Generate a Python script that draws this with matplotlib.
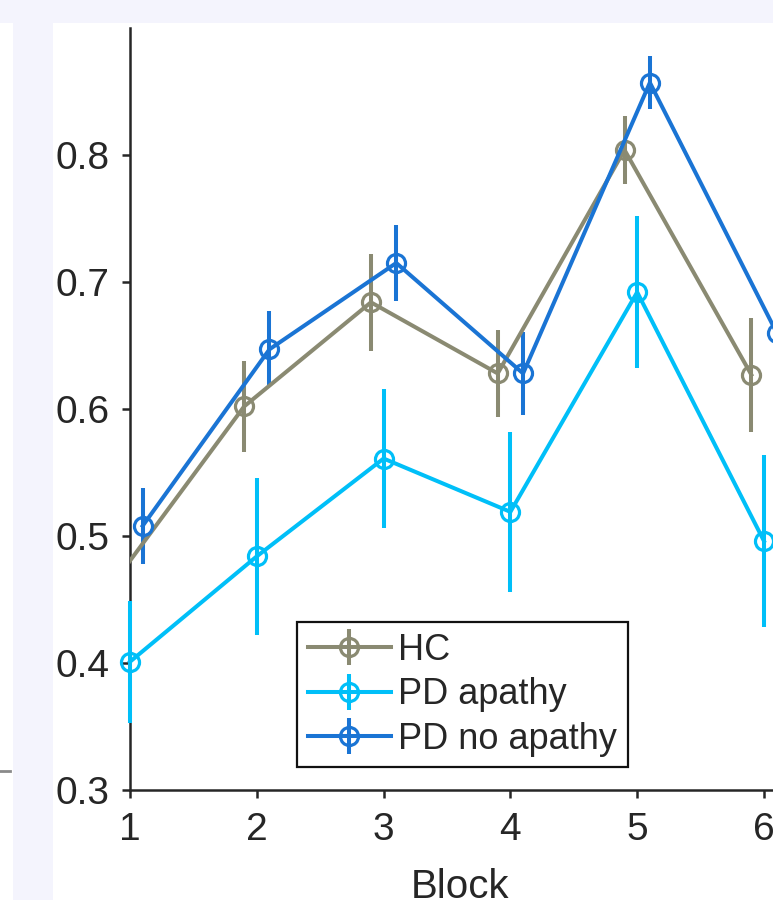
import matplotlib
matplotlib.use("Agg")
import matplotlib.pyplot as plt
from matplotlib.patches import Rectangle
from matplotlib.lines import Line2D
import numpy as np

plt.rcParams['font.family'] = ['Liberation Sans', 'DejaVu Sans']

blocks = [1, 2, 3, 4, 5, 6]
offsets = {"HC": -0.1, "PD apathy": 0.0, "PD no apathy": 0.1}
hc_mean = [0.467, 0.602, 0.684, 0.628, 0.804, 0.627]
hc_err = [0.030, 0.036, 0.038, 0.034, 0.027, 0.045]
pda_mean = [0.401, 0.484, 0.561, 0.519, 0.692, 0.496]
pda_err = [0.048, 0.062, 0.055, 0.063, 0.060, 0.068]
pdn_mean = [0.508, 0.647, 0.715, 0.628, 0.857, 0.660]
pdn_err = [0.030, 0.030, 0.030, 0.033, 0.021, 0.030]
yticks = [0.3, 0.4, 0.5, 0.6, 0.7, 0.8]
ytick_labels = ["0.3", "0.4", "0.5", "0.6", "0.7", "0.8"]
xtick_labels = ["1", "2", "3", "4", "5", "6"]

colors = {"HC": "#8a8a72", "PD apathy": "#00bff8", "PD no apathy": "#1a74d4"}

W, H = 773, 900
fig = plt.figure(figsize=(W / 100, H / 100), dpi=100)
fig.patch.set_facecolor("white")
bg = "#f4f4fd"
fig.patches.append(Rectangle((0, 1 - 23 / H), 1, 23 / H, transform=fig.transFigure,
                             facecolor=bg, edgecolor="none", zorder=-5))
fig.patches.append(Rectangle((13 / W, 0), 40 / W, 1 - 23 / H, transform=fig.transFigure,
                             facecolor=bg, edgecolor="none", zorder=-5))
fig.add_artist(Line2D([0 / W, 10 / W], [1 - 771 / H, 1 - 771 / H], color="#8a8a8a",
                      lw=2.0, transform=fig.transFigure))

# axes: x=1 at px 130, 126.8 px per unit; y 0.3 at px 790, 1270 px per unit
xmin, xmax = 1.0, 6.5
ymin, ymax = 0.3, 0.9
left = 130 / W
bottom = (H - 790) / H
width = (xmax - xmin) * 126.8 / W
height = (ymax - ymin) * 1270 / H
ax = fig.add_axes([left, bottom, width, height])
ax.set_facecolor("none")

series = [("HC", hc_mean, hc_err, True),
          ("PD apathy", pda_mean, pda_err, False),
          ("PD no apathy", pdn_mean, pdn_err, True)]
for name, m, e, clip in series:
    xs = np.array(blocks) + offsets[name]
    eb = ax.errorbar(xs, m, yerr=e, color=colors[name], lw=2.9, elinewidth=2.9,
                     marker="o", ms=13, mfc="none", mec=colors[name], mew=2.3,
                     capsize=0, label=name, zorder=3)
    for art in [eb.lines[0]] + list(eb.lines[2]):
        art.set_clip_on(clip)

ax.set_xlim(xmin, xmax)
ax.set_ylim(ymin, ymax)
ax.set_xticks(blocks)
ax.set_xticklabels(xtick_labels)
ax.set_yticks(yticks)
ax.set_yticklabels(ytick_labels)
for s in ["top", "right"]:
    ax.spines[s].set_visible(False)
for s in ["left", "bottom"]:
    ax.spines[s].set_linewidth(1.8)
    ax.spines[s].set_color("#262626")
ax.tick_params(axis="both", direction="out", length=6, width=1.8, colors="#262626",
               labelsize=28, labelcolor="#262626")
ax.tick_params(axis="y", pad=9)
ax.tick_params(axis="x", pad=10)
ax.set_xlabel("Block", fontsize=29, color="#262626")
ax.xaxis.set_label_coords((460 - 130) / (width * W), -(868 - 790) / (height * H))
ax.xaxis.label.set_va("top")

leg = ax.legend(loc="upper left", bbox_to_anchor=(297 / W, 1 - 622 / H),
                bbox_transform=fig.transFigure, fontsize=26, frameon=True,
                fancybox=False, edgecolor="#111111", framealpha=1,
                borderpad=0.3, labelspacing=0.26, handlelength=2.3,
                handletextpad=0.2, borderaxespad=0)
leg.get_frame().set_linewidth(1.6)
for t in leg.get_texts():
    t.set_color("#262626")

fig.savefig("out.png", dpi=100)
